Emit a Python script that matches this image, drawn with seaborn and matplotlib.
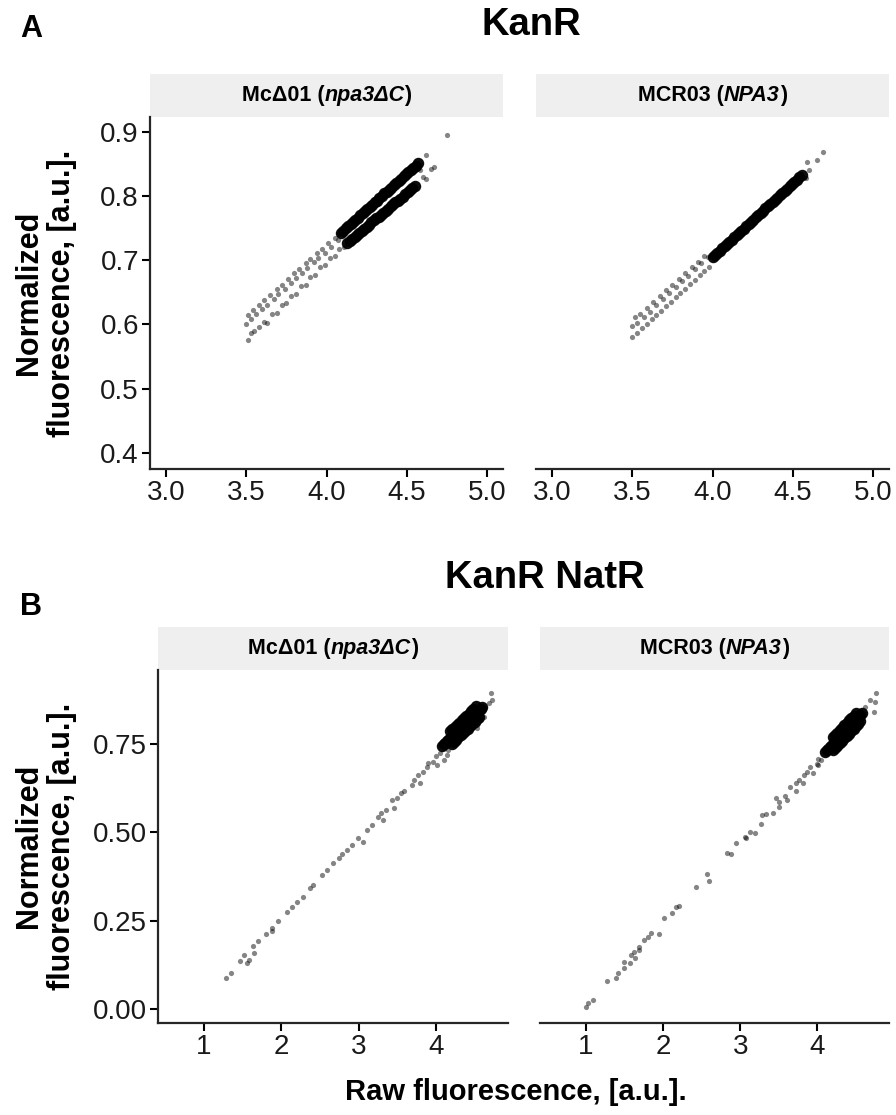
import matplotlib
matplotlib.use("Agg")
import matplotlib.pyplot as plt
from matplotlib.patches import Rectangle
import pandas as pd
import seaborn as sns

# ---- data (raw vs normalized fluorescence) ----
# Panel A, McΔ01: scattered points along the two bands + stray points
kan_mc_x = [3.50, 3.51, 3.53, 3.54, 3.56, 3.58, 3.60, 3.61, 3.63, 3.65, 3.67, 3.69,
            3.70, 3.72, 3.74, 3.76, 3.78, 3.80, 3.81, 3.83, 3.85, 3.87, 3.88, 3.90,
            3.92, 3.94, 3.95, 3.97, 3.99, 4.01, 4.03, 4.05, 4.07, 4.08,
            3.51, 3.53, 3.55, 3.58, 3.61, 3.63, 3.66, 3.69, 3.72, 3.75, 3.78, 3.81,
            3.84, 3.87, 3.90, 3.93, 3.96, 3.99, 4.02, 4.05, 4.08, 4.11,
            4.58, 4.60, 4.62, 4.62, 4.65, 4.67, 4.75]
kan_mc_y = [0.600, 0.614, 0.608, 0.622, 0.616, 0.631, 0.624, 0.638, 0.631, 0.646, 0.640, 0.655,
            0.647, 0.662, 0.656, 0.671, 0.665, 0.680, 0.672, 0.687, 0.680, 0.695, 0.688, 0.702,
            0.697, 0.711, 0.703, 0.718, 0.712, 0.727, 0.721, 0.735, 0.731, 0.741,
            0.576, 0.586, 0.590, 0.596, 0.604, 0.603, 0.616, 0.618, 0.631, 0.633, 0.645, 0.648,
            0.660, 0.662, 0.674, 0.677, 0.689, 0.692, 0.703, 0.706, 0.717, 0.721,
            0.840, 0.830, 0.864, 0.826, 0.842, 0.845, 0.895]
# dense (saturated) part of the two bands
kan_mc_core_x = [4.09, 4.105, 4.12, 4.135, 4.15, 4.165, 4.18, 4.195, 4.21, 4.225, 4.24, 4.255,
                 4.27, 4.285, 4.30, 4.315, 4.33, 4.345, 4.36, 4.375, 4.39, 4.405, 4.42, 4.435,
                 4.45, 4.465, 4.48, 4.495, 4.51, 4.525, 4.54, 4.555, 4.57,
                 4.13, 4.145, 4.16, 4.175, 4.19, 4.205, 4.22, 4.235, 4.25, 4.265, 4.28, 4.295,
                 4.31, 4.325, 4.34, 4.355, 4.37, 4.385, 4.40, 4.415, 4.43, 4.445, 4.46, 4.475,
                 4.49, 4.505, 4.52, 4.535, 4.55]
kan_mc_core_y = [0.743, 0.746, 0.750, 0.753, 0.756, 0.760, 0.763, 0.766, 0.770, 0.773, 0.777, 0.780,
                 0.783, 0.786, 0.790, 0.793, 0.797, 0.800, 0.804, 0.807, 0.810, 0.813, 0.817, 0.820,
                 0.824, 0.827, 0.831, 0.834, 0.837, 0.840, 0.844, 0.847, 0.851,
                 0.727, 0.730, 0.733, 0.736, 0.740, 0.743, 0.746, 0.749, 0.752, 0.755, 0.759, 0.762,
                 0.765, 0.768, 0.771, 0.774, 0.777, 0.780, 0.784, 0.787, 0.790, 0.793, 0.796, 0.799,
                 0.803, 0.806, 0.809, 0.812, 0.815]

# Panel A, MCR03
kan_mcr_x = [3.50, 3.52, 3.53, 3.55, 3.57, 3.59, 3.61, 3.63, 3.65, 3.67, 3.69, 3.71,
             3.73, 3.75, 3.77, 3.79, 3.81, 3.83, 3.85, 3.87, 3.89, 3.91, 3.93, 3.95, 3.97,
             3.50, 3.53, 3.56, 3.59, 3.62, 3.65, 3.68, 3.71, 3.74, 3.77, 3.80, 3.83,
             3.86, 3.89, 3.92, 3.95, 3.98,
             4.585, 4.59, 4.60, 4.65, 4.69]
kan_mcr_y = [0.598, 0.611, 0.603, 0.616, 0.612, 0.626, 0.620, 0.635, 0.630, 0.644, 0.640, 0.653,
             0.649, 0.662, 0.658, 0.671, 0.667, 0.680, 0.676, 0.689, 0.686, 0.698, 0.695, 0.707, 0.705,
             0.580, 0.587, 0.594, 0.601, 0.608, 0.614, 0.621, 0.628, 0.635, 0.642, 0.649, 0.656,
             0.663, 0.670, 0.677, 0.683, 0.690,
             0.828, 0.853, 0.841, 0.856, 0.868]
kan_mcr_core_x = [4.00, 4.015, 4.03, 4.045, 4.06, 4.075, 4.09, 4.105, 4.12, 4.135, 4.15, 4.165,
                  4.18, 4.195, 4.21, 4.225, 4.24, 4.255, 4.27, 4.285, 4.30, 4.315, 4.33, 4.345,
                  4.36, 4.375, 4.39, 4.405, 4.42, 4.435, 4.45, 4.465, 4.48, 4.495, 4.51, 4.525,
                  4.54, 4.56]
kan_mcr_core_y = [0.705, 0.708, 0.712, 0.715, 0.719, 0.722, 0.726, 0.729, 0.732, 0.736, 0.739, 0.742,
                  0.746, 0.749, 0.753, 0.756, 0.760, 0.763, 0.767, 0.770, 0.774, 0.777, 0.781, 0.784,
                  0.787, 0.790, 0.794, 0.797, 0.801, 0.804, 0.808, 0.811, 0.815, 0.818, 0.822, 0.825,
                  0.829, 0.833]

# Panel B, McΔ01
nat_mc_x = [1.285, 1.345, 1.466, 1.517, 1.552, 1.586, 1.647, 1.638, 1.703, 1.80, 1.876, 1.88,
            1.962, 2.07, 2.135, 2.20, 2.285, 2.372, 2.415, 2.523, 2.59, 2.673, 2.74, 2.78,
            2.846, 2.91, 2.996, 3.06, 3.105, 3.17, 3.25, 3.29, 3.31, 3.35, 3.43, 3.46,
            3.50, 3.55, 3.59, 3.687, 3.71, 3.79, 3.77, 3.83, 3.88, 3.90, 3.96, 4.01,
            4.00, 4.05, 4.14, 4.10, 4.16,
            4.709, 4.72, 4.68, 4.62, 4.58, 4.53]
nat_mc_y = [0.087, 0.103, 0.136, 0.153, 0.129, 0.139, 0.159, 0.178, 0.191, 0.212, 0.228, 0.222,
            0.250, 0.275, 0.290, 0.302, 0.318, 0.342, 0.351, 0.379, 0.393, 0.413, 0.427, 0.440,
            0.450, 0.464, 0.483, 0.474, 0.507, 0.521, 0.544, 0.556, 0.535, 0.563, 0.592, 0.568,
            0.597, 0.611, 0.616, 0.634, 0.648, 0.639, 0.663, 0.672, 0.686, 0.696, 0.700, 0.691,
            0.715, 0.724, 0.719, 0.705, 0.733,
            0.894, 0.875, 0.866, 0.828, 0.819, 0.795]
nat_mc_core_x = [4.08, 4.10, 4.12, 4.14, 4.16, 4.18, 4.20, 4.22, 4.24, 4.26, 4.28, 4.30,
                 4.32, 4.34, 4.36, 4.38, 4.40, 4.42, 4.44, 4.46, 4.48, 4.50, 4.52, 4.54,
                 4.56, 4.58, 4.60,
                 4.18, 4.21, 4.24, 4.27, 4.30, 4.33, 4.36, 4.39, 4.42, 4.45, 4.48, 4.52,
                 4.20, 4.23, 4.26, 4.29, 4.32, 4.35, 4.38, 4.41, 4.44, 4.47, 4.50, 4.53, 4.56]
nat_mc_core_y = [0.745, 0.749, 0.753, 0.758, 0.762, 0.766, 0.770, 0.775, 0.779, 0.783, 0.787, 0.791,
                 0.795, 0.800, 0.804, 0.808, 0.812, 0.816, 0.820, 0.825, 0.829, 0.833, 0.837, 0.842,
                 0.846, 0.850, 0.854,
                 0.786, 0.793, 0.799, 0.805, 0.811, 0.818, 0.824, 0.830, 0.836, 0.843, 0.849, 0.857,
                 0.750, 0.757, 0.763, 0.769, 0.775, 0.782, 0.788, 0.794, 0.800, 0.807, 0.813, 0.820,
                 0.826]

# Panel B, MCR03
nat_mcr_x = [1.00, 1.03, 1.087, 1.28, 1.388, 1.42, 1.496, 1.496, 1.57, 1.582, 1.625, 1.64,
             1.69, 1.69, 1.755, 1.80, 1.84, 1.95, 2.013, 2.12, 2.164, 2.21, 2.423, 2.574,
             2.595, 2.833, 2.876, 2.95, 3.06, 3.08, 3.13, 3.19, 3.264, 3.286, 3.34, 3.42,
             3.467, 3.51, 3.51, 3.58, 3.61, 3.652, 3.72, 3.72, 3.76, 3.81, 3.83, 3.87,
             3.90, 3.94, 3.99, 4.01, 4.05, 4.01,
             4.76, 4.75, 4.69, 4.73, 4.62]
nat_mcr_y = [0.005, 0.016, 0.024, 0.079, 0.087, 0.103, 0.115, 0.134, 0.129, 0.153, 0.162, 0.143,
             0.176, 0.167, 0.195, 0.203, 0.214, 0.212, 0.257, 0.271, 0.290, 0.292, 0.346, 0.382,
             0.361, 0.442, 0.439, 0.469, 0.488, 0.485, 0.502, 0.497, 0.524, 0.548, 0.553, 0.555,
             0.597, 0.573, 0.585, 0.604, 0.591, 0.629, 0.639, 0.616, 0.649, 0.641, 0.663, 0.672,
             0.686, 0.669, 0.695, 0.709, 0.705, 0.691,
             0.894, 0.870, 0.875, 0.842, 0.856]
nat_mcr_core_x = [4.10, 4.12, 4.14, 4.16, 4.18, 4.20, 4.22, 4.24, 4.26, 4.28, 4.30, 4.32,
                  4.34, 4.36, 4.38, 4.40, 4.42, 4.44, 4.46, 4.48, 4.50, 4.52, 4.54, 4.56, 4.58,
                  4.20, 4.23, 4.26, 4.29, 4.32, 4.35, 4.38, 4.41, 4.44, 4.47, 4.50,
                  4.20, 4.23, 4.26, 4.29, 4.32, 4.35, 4.38, 4.41, 4.44, 4.47, 4.50, 4.53, 4.56]
nat_mcr_core_y = [0.728, 0.733, 0.737, 0.742, 0.746, 0.751, 0.755, 0.760, 0.764, 0.769, 0.774, 0.778,
                  0.783, 0.787, 0.792, 0.796, 0.801, 0.806, 0.810, 0.815, 0.819, 0.824, 0.828, 0.833, 0.837,
                  0.769, 0.776, 0.782, 0.789, 0.796, 0.803, 0.810, 0.817, 0.823, 0.830, 0.837,
                  0.733, 0.740, 0.746, 0.753, 0.760, 0.767, 0.774, 0.780, 0.787, 0.794, 0.801, 0.808,
                  0.815]

strip_mc = [("Mc\u039401 (", "normal"), ("npa3\u0394C", "italic"), (")", "normal")]
strip_mcr = [("MCR03 (", "normal"), ("NPA3", "italic"), (")", "normal")]

kan_xticks = [3.0, 3.5, 4.0, 4.5, 5.0]
kan_yticks = [0.4, 0.5, 0.6, 0.7, 0.8, 0.9]
nat_xticks = [1, 2, 3, 4]
nat_yticks = [0.00, 0.25, 0.50, 0.75]

sns.set_theme(style="ticks")
plt.rcParams["font.family"] = ["Liberation Sans", "DejaVu Sans"]

fig = plt.figure(figsize=(8.96, 11.15), dpi=100)
W, H = 896, 1115


def px_axes(x0, y0, x1, y1):
    # pixel box (top-left origin) -> figure axes
    return fig.add_axes([x0 / W, 1 - y1 / H, (x1 - x0) / W, (y1 - y0) / H])


panels = [
    (px_axes(150, 117, 503, 469), kan_mc_x, kan_mc_y, kan_mc_core_x, kan_mc_core_y, strip_mc, True, "kan"),
    (px_axes(536, 117, 889, 469), kan_mcr_x, kan_mcr_y, kan_mcr_core_x, kan_mcr_core_y, strip_mcr, False, "kan"),
    (px_axes(158, 670, 508, 1023), nat_mc_x, nat_mc_y, nat_mc_core_x, nat_mc_core_y, strip_mc, True, "nat"),
    (px_axes(540, 670, 889, 1023), nat_mcr_x, nat_mcr_y, nat_mcr_core_x, nat_mcr_core_y, strip_mcr, False, "nat"),
]

fig.canvas.draw()
renderer = fig.canvas.get_renderer()


def rich_text(ax, pieces, size):
    # strip label made of bold upright / bold italic pieces, centred on the strip
    texts = []
    for s, style in pieces:
        t = ax.text(0, 1.061, s, transform=ax.transAxes, fontsize=size, fontweight="bold",
                    fontstyle=style, ha="left", va="center", color="black")
        texts.append(t)
    widths = [t.get_window_extent(renderer).width for t in texts]
    ax_w = ax.get_window_extent(renderer).width
    start = 0.5 - sum(widths) / ax_w / 2
    for t, w in zip(texts, widths):
        t.set_x(start)
        start += w / ax_w


for ax, x, y, cx, cy, strip, first, kind in panels:
    sparse = pd.DataFrame({"raw": x, "norm": y})
    core = pd.DataFrame({"raw": cx, "norm": cy})
    sns.scatterplot(data=core, x="raw", y="norm", ax=ax, color="black", s=68,
                    alpha=0.95, linewidth=0)
    sns.scatterplot(data=sparse, x="raw", y="norm", ax=ax, color="black", s=14,
                    alpha=0.48, linewidth=0)
    if kind == "kan":
        ax.set_xlim(2.9, 5.1)
        ax.set_ylim(0.375, 0.923)
        ax.set_xticks(kan_xticks, [f"{v:.1f}" for v in kan_xticks])
        ax.set_yticks(kan_yticks, [f"{v:.1f}" for v in kan_yticks])
    else:
        ax.set_xlim(0.405, 4.93)
        ax.set_ylim(-0.04, 0.96)
        ax.set_xticks(nat_xticks, [str(v) for v in nat_xticks])
        ax.set_yticks(nat_yticks, [f"{v:.2f}" for v in nat_yticks])
    ax.set_xlabel("")
    ax.set_ylabel("")
    for side in ("top", "right"):
        ax.spines[side].set_visible(False)
    ax.spines["bottom"].set_linewidth(1.6)
    ax.spines["left"].set_linewidth(1.6)
    ax.tick_params(axis="both", length=5.5, width=1.5, labelsize=20, pad=2.5,
                   colors="black", labelcolor="#1a1a1a")
    if not first:
        ax.spines["left"].set_visible(False)
        ax.tick_params(axis="y", left=False, labelleft=False)
    ax.add_patch(Rectangle((0, 1.0), 1, 0.122, transform=ax.transAxes, clip_on=False,
                           facecolor="#EFEFEF", edgecolor="none"))
    rich_text(ax, strip, 15.5)

bold = dict(fontweight="bold", color="black")
fig.text(0.035, 0.974, "A", fontsize=22, ha="center", va="center", **bold)
fig.text(0.035, 0.4556, "B", fontsize=22, ha="center", va="center", **bold)
fig.text(0.5926, 0.9775, "KanR", fontsize=27.5, ha="center", va="center", **bold)
fig.text(0.6083, 0.4815, "KanR NatR", fontsize=27.5, ha="center", va="center", **bold)
ylab = "Normalized\nfluorescence, [a.u.]."
fig.text(0.051, 0.7372, ylab, fontsize=22, rotation=90, ha="center", va="center",
         linespacing=1.15, **bold)
fig.text(0.051, 0.2413, ylab, fontsize=22, rotation=90, ha="center", va="center",
         linespacing=1.15, **bold)
fig.text(0.576, 0.0206, "Raw fluorescence, [a.u.].", fontsize=21, ha="center", va="center", **bold)

fig.savefig("out.png", dpi=100)
